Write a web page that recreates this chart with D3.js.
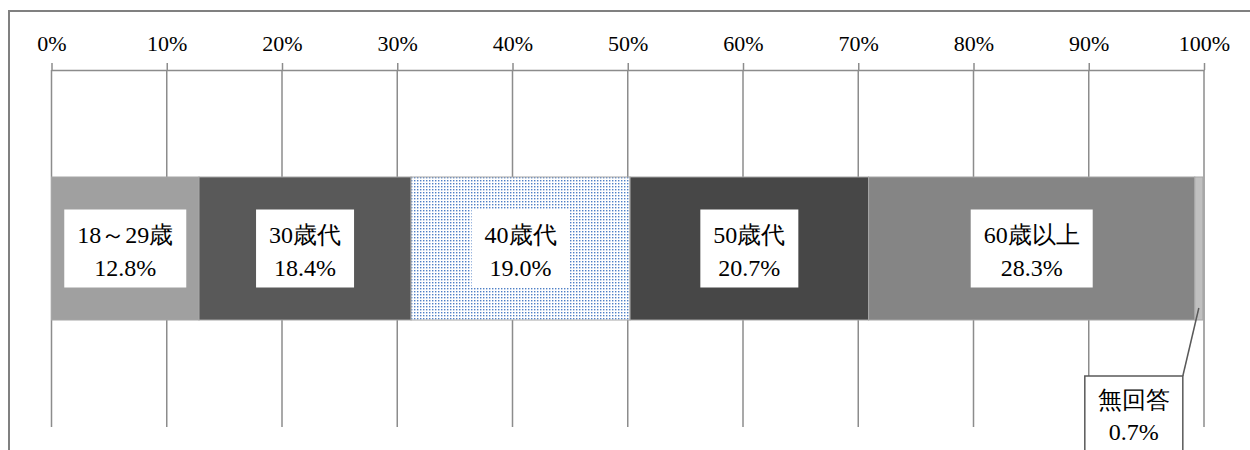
<!DOCTYPE html>
<html>
<head>
<meta charset="utf-8">
<script src="https://cdn.jsdelivr.net/npm/d3@7"></script>
<style>
  body { margin: 0; background: #fff; }
</style>
</head>
<body>
<svg id="chart"></svg>
<script>
// age groups and share (%)
var categories = ["18～29歳", "30歳代", "40歳代", "50歳代", "60歳以上", "無回答"];
var values = [12.8, 18.4, 19.0, 20.7, 28.3, 0.7];
var tickValues = [0, 10, 20, 30, 40, 50, 60, 70, 80, 90, 100];

var fills = ["#a0a0a0", "#595959", "url(#dots)", "#474747", "#858585", "#c0c0c0"];
var FONT = "Liberation Serif";

var W = 1250, H = 450;
var svg = d3.select("#chart").attr("width", W).attr("height", H);

// dotted pattern for 40歳代
var pat = svg.append("defs").append("pattern")
    .attr("id", "dots")
    .attr("patternUnits", "userSpaceOnUse")
    .attr("width", 3).attr("height", 3);
pat.append("rect").attr("width", 3).attr("height", 3).attr("fill", "#fff");
pat.append("rect").attr("width", 1.4).attr("height", 1.4).attr("fill", "#4f7fc6");

// outer frame (open to the right / bottom)
svg.append("rect")
    .attr("x", 9).attr("y", 11)
    .attr("width", 1400).attr("height", 600)
    .attr("fill", "none")
    .attr("stroke", "#808080")
    .attr("stroke-width", 2);

var x = d3.scaleLinear().domain([0, 100]).range([51.5, 1204]);
var axisY = 70, gridBottom = 427;
var barTop = 177, barBottom = 320;

// grid lines
svg.append("g").selectAll("line")
    .data(tickValues)
    .enter().append("line")
    .attr("x1", function(d) { return x(d); })
    .attr("x2", function(d) { return x(d); })
    .attr("y1", axisY)
    .attr("y2", gridBottom)
    .attr("stroke", "#8c8c8c")
    .attr("stroke-width", 1.5);

// top axis
var axis = svg.append("g")
    .attr("transform", "translate(0," + axisY + ")")
    .call(d3.axisTop(x)
        .tickValues(tickValues)
        .tickSize(7)
        .tickSizeOuter(0)
        .tickFormat(function(d) { return d + "%"; }));
axis.attr("font-family", null).attr("font-size", null);
axis.select(".domain").attr("stroke", "#8c8c8c").attr("stroke-width", 1.5);
axis.selectAll(".tick line").attr("stroke", "#8c8c8c").attr("stroke-width", 1.5);
axis.selectAll(".tick text")
    .attr("y", -19)
    .attr("dy", 0)
    .attr("fill", "#000")
    .style("font-size", "22px")
    .style("font-family", FONT);

// stacked segments
var start = 0;
var segs = values.map(function(v, i) {
    var s = { name: categories[i], value: v, x0: start, x1: start + v, fill: fills[i] };
    start += v;
    return s;
});

svg.append("g").selectAll("rect")
    .data(segs)
    .enter().append("rect")
    .attr("x", function(d) { return x(d.x0); })
    .attr("y", barTop)
    .attr("width", function(d) { return x(d.x1) - x(d.x0); })
    .attr("height", barBottom - barTop)
    .attr("fill", function(d) { return d.fill; })
    .attr("stroke", "#a6a6a6")
    .attr("stroke-width", 1);

function label(g, cx, y, txt) {
    return g.append("text").attr("x", cx).attr("y", y)
        .attr("text-anchor", "middle")
        .style("font-size", "24px")
        .style("font-family", FONT)
        .text(txt);
}

// in-bar labels
var midY = (barTop + barBottom) / 2;
segs.slice(0, 5).forEach(function(d) {
    var cx = x((d.x0 + d.x1) / 2);
    var g = svg.append("g");
    var box = g.append("rect").attr("fill", "#fff");
    var t1 = label(g, cx, midY - 6, d.name);
    var t2 = label(g, cx, midY + 27, d.value.toFixed(1) + "%");
    var w = Math.max(t1.node().getComputedTextLength(), t2.node().getComputedTextLength()) + 26;
    box.attr("x", cx - w / 2).attr("y", midY - 39).attr("width", w).attr("height", 78);
});

// callout for 無回答
var last = segs[5];
var lx = x((last.x0 + last.x1) / 2);
var boxRight = lx - 16, boxLeft = boxRight - 98, boxTop = 376;
svg.append("line")
    .attr("x1", lx).attr("y1", barBottom - 12)
    .attr("x2", boxRight).attr("y2", boxTop)
    .attr("stroke", "#595959").attr("stroke-width", 1.5);
svg.append("rect")
    .attr("x", boxLeft).attr("y", boxTop)
    .attr("width", boxRight - boxLeft).attr("height", 120)
    .attr("fill", "#fff")
    .attr("stroke", "#595959").attr("stroke-width", 1.5);
var cg = svg.append("g");
label(cg, (boxLeft + boxRight) / 2, boxTop + 32, last.name);
label(cg, (boxLeft + boxRight) / 2, boxTop + 64, last.value.toFixed(1) + "%");
</script>
</body>
</html>
